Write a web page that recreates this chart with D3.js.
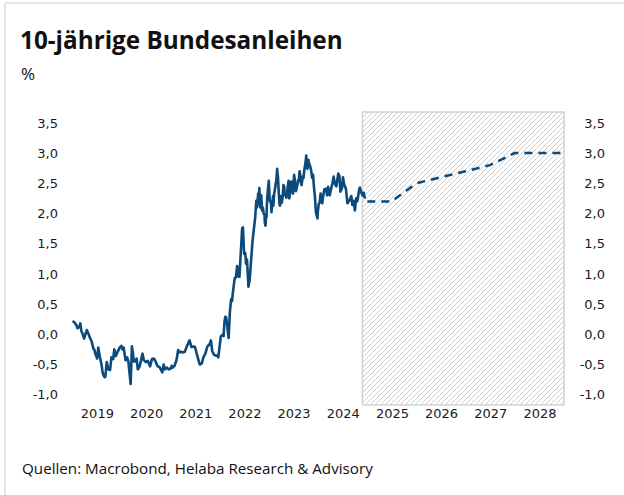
<!DOCTYPE html>
<html><head><meta charset="utf-8">
<script src="https://cdn.jsdelivr.net/npm/d3@7"></script>
<style>body{margin:0;background:#fff}svg{display:block}</style>
</head><body>
<svg id="c" width="624" height="495"></svg>
<script>
// ---------- data ----------
const histDates = [
"2019-01-02","2019-01-15","2019-01-31","2019-02-08","2019-02-20","2019-03-01","2019-03-08","2019-03-22","2019-03-29","2019-04-10","2019-04-18","2019-04-30","2019-05-10","2019-05-24","2019-06-05","2019-06-14","2019-06-20","2019-07-04","2019-07-12","2019-07-25","2019-08-05","2019-08-15","2019-08-28","2019-09-03","2019-09-13","2019-09-25","2019-10-08","2019-10-18","2019-10-31","2019-11-08","2019-11-20","2019-12-03","2019-12-18","2019-12-31",
"2020-01-08","2020-01-17","2020-01-31","2020-02-12","2020-02-21","2020-02-28","2020-03-09","2020-03-18","2020-03-25","2020-04-01","2020-04-15","2020-04-22","2020-05-01","2020-05-15","2020-06-05","2020-06-15","2020-06-30","2020-07-15","2020-07-31","2020-08-14","2020-08-28","2020-09-10","2020-09-25","2020-10-09","2020-10-30","2020-11-09","2020-11-20","2020-12-04","2020-12-17","2020-12-31",
"2021-01-08","2021-01-15","2021-01-29","2021-02-12","2021-02-25","2021-03-05","2021-03-18","2021-03-31","2021-04-15","2021-04-30","2021-05-14","2021-05-20","2021-06-04","2021-06-18","2021-06-30","2021-07-16","2021-07-30","2021-08-04","2021-08-20","2021-08-31","2021-09-15","2021-09-30","2021-10-15","2021-10-26","2021-11-05","2021-11-19","2021-11-30","2021-12-09","2021-12-20","2021-12-31",
"2022-01-07","2022-01-19","2022-01-28","2022-02-04","2022-02-10","2022-02-16","2022-02-24","2022-03-01","2022-03-07","2022-03-16","2022-03-25","2022-04-01","2022-04-08","2022-04-21","2022-04-29","2022-05-09","2022-05-16","2022-05-26","2022-06-03","2022-06-15","2022-06-21","2022-06-30","2022-07-08","2022-07-14","2022-07-21","2022-08-01","2022-08-10","2022-08-23","2022-08-31","2022-09-09","2022-09-20","2022-09-28",
"2022-10-03","2022-10-07","2022-10-12","2022-10-17","2022-10-21","2022-10-26","2022-10-28","2022-11-04","2022-11-10","2022-11-16","2022-11-22","2022-11-28","2022-12-01","2022-12-06","2022-12-09","2022-12-13","2022-12-16","2022-12-20","2022-12-23","2022-12-30",
"2023-01-06","2023-01-11","2023-01-16","2023-01-19","2023-01-25","2023-01-31","2023-02-02","2023-02-08","2023-02-14","2023-02-20","2023-02-24","2023-03-02","2023-03-09","2023-03-14","2023-03-20","2023-03-24","2023-03-31","2023-04-06","2023-04-12","2023-04-18","2023-04-24","2023-04-28",
"2023-05-05","2023-05-10","2023-05-15","2023-05-19","2023-05-26","2023-06-01","2023-06-07","2023-06-15","2023-06-20","2023-06-23","2023-06-28","2023-07-06","2023-07-10","2023-07-14","2023-07-19","2023-07-25","2023-07-31","2023-08-04","2023-08-10","2023-08-16","2023-08-21","2023-08-24","2023-08-31",
"2023-09-08","2023-09-14","2023-09-20","2023-09-29","2023-10-04","2023-10-09","2023-10-13","2023-10-20","2023-10-25","2023-10-31","2023-11-10","2023-11-17","2023-11-24","2023-11-30","2023-12-08","2023-12-15","2023-12-27","2023-12-29",
"2024-01-05","2024-01-12","2024-01-19","2024-01-31","2024-02-08","2024-02-16","2024-02-29","2024-03-07","2024-03-15","2024-03-27","2024-04-05","2024-04-16","2024-04-25","2024-05-03","2024-05-15","2024-05-29","2024-06-07","2024-06-14","2024-06-26","2024-07-03","2024-07-12","2024-07-25","2024-08-05","2024-08-14","2024-08-23","2024-09-03","2024-09-11","2024-09-20","2024-09-30","2024-10-09","2024-10-18","2024-10-31","2024-11-06","2024-11-15","2024-11-25","2024-12-05","2024-12-13"
];
const histValues = [
0.22,0.20,0.15,0.10,0.12,0.18,0.06,-0.02,-0.07,0.02,0.07,0.01,-0.05,-0.12,-0.23,-0.26,-0.32,-0.40,-0.22,-0.38,-0.50,-0.65,-0.71,-0.70,-0.46,-0.58,-0.59,-0.38,-0.41,-0.25,-0.36,-0.29,-0.22,-0.19,
-0.25,-0.22,-0.43,-0.38,-0.45,-0.61,-0.82,-0.20,-0.30,-0.45,-0.45,-0.40,-0.58,-0.53,-0.32,-0.43,-0.46,-0.44,-0.53,-0.41,-0.40,-0.45,-0.53,-0.54,-0.63,-0.50,-0.58,-0.55,-0.58,-0.57,
-0.52,-0.55,-0.52,-0.43,-0.26,-0.30,-0.29,-0.30,-0.29,-0.20,-0.13,-0.10,-0.21,-0.20,-0.21,-0.35,-0.46,-0.50,-0.48,-0.38,-0.32,-0.20,-0.17,-0.10,-0.28,-0.34,-0.35,-0.35,-0.38,-0.18,
-0.04,-0.01,-0.03,0.21,0.29,0.28,0.16,0.03,-0.06,0.37,0.58,0.55,0.71,0.93,0.94,1.13,0.96,0.95,1.27,1.75,1.77,1.33,1.35,1.17,1.24,0.79,0.90,1.30,1.54,1.72,1.93,2.21,
2.10,2.18,2.33,2.28,2.42,2.12,2.10,2.30,2.05,2.10,2.00,1.98,1.84,1.80,1.93,1.94,2.14,2.30,2.38,2.54,
2.21,2.20,2.16,2.02,2.17,2.29,2.13,2.33,2.40,2.50,2.54,2.74,2.58,2.35,2.15,2.13,2.29,2.18,2.27,2.47,2.44,2.31,
2.29,2.26,2.31,2.43,2.54,2.25,2.38,2.53,2.46,2.36,2.33,2.64,2.58,2.46,2.37,2.42,2.48,2.55,2.54,2.70,2.62,2.52,2.47,
2.61,2.59,2.72,2.84,2.96,2.76,2.74,2.89,2.83,2.80,2.71,2.59,2.64,2.45,2.27,2.02,1.92,2.02,
2.16,2.18,2.33,2.17,2.30,2.40,2.41,2.30,2.44,2.30,2.40,2.50,2.61,2.50,2.45,2.66,2.62,2.36,2.42,2.60,2.48,2.41,2.17,2.20,2.23,2.29,2.14,2.21,2.05,2.25,2.20,2.39,2.43,2.36,2.30,2.34,2.25
];
const fcDates = ["2024-12-31","2025-03-31","2025-06-30","2025-09-30","2025-12-31","2026-03-31","2026-06-30","2026-09-30","2026-12-31","2027-03-31","2027-06-30","2027-09-30","2027-12-31","2028-03-31","2028-06-30","2028-09-30","2028-12-31"];
const fcValues = [2.2,2.2,2.2,2.35,2.5,2.55,2.6,2.65,2.7,2.75,2.8,2.9,3.0,3.0,3.0,3.0,3.0];
const yTicks = [-1.0,-0.5,0.0,0.5,1.0,1.5,2.0,2.5,3.0,3.5];
const xYears = [2019,2020,2021,2022,2023,2024,2025,2026,2027,2028];
const forecastStart = "2024-11-25";
const forecastEnd = "2029-01-01";
const title = "10-jährige Bundesanleihen";
const unit = "%";
const source = "Quellen: Macrobond, Helaba Research & Advisory";

// ---------- chart ----------
const parse = d3.utcParse("%Y-%m-%d");
const svg = d3.select("#c");
const x = d3.scaleUtc().domain([parse("2019-01-01"), parse("2029-01-01")]).range([72.4, 564.1]);
const y = d3.scaleLinear().domain([-1.17, 3.68]).range([405, 112]);

// frame
svg.append("line").attr("x1",5).attr("x2",624).attr("y1",3).attr("y2",3).attr("stroke","#e4e4e4").attr("stroke-width",2);
svg.append("line").attr("x1",5).attr("x2",5).attr("y1",3).attr("y2",495).attr("stroke","#e4e4e4").attr("stroke-width",2);

// hatch pattern
const defs = svg.append("defs");
const pat = defs.append("pattern").attr("id","hatch").attr("patternUnits","userSpaceOnUse").attr("width",5).attr("height",5);
pat.append("path").attr("d","M-1,1 l2,-2 M0,5 l5,-5 M4,6 l2,-2").attr("stroke","#c6c6c6").attr("stroke-width",0.9);

const x0 = x(parse(forecastStart)), x1 = x(parse(forecastEnd));
svg.append("rect").attr("x",x0).attr("y",y(3.68)).attr("width",x1-x0).attr("height",y(-1.17)-y(3.68))
  .attr("fill","url(#hatch)").attr("stroke","#d2d2d2").attr("stroke-width",1.5);

// axes
const fmt = v => d3.format(".1f")(v).replace(".", ",").replace("−","-");
const styleAxis = g => {
  g.select(".domain").remove();
  g.selectAll("text").attr("font-family","DejaVu Sans").attr("font-size",13).attr("fill","#1a1a1a");
};
svg.append("g").attr("transform","translate(58,0)")
  .call(d3.axisLeft(y).tickValues(yTicks).tickFormat(fmt).tickSize(0).tickPadding(0)).call(styleAxis);
svg.append("g").attr("transform","translate(605,0)")
  .call(d3.axisLeft(y).tickValues(yTicks).tickFormat(fmt).tickSize(0).tickPadding(0)).call(styleAxis);
svg.append("g").attr("transform","translate(0,409)")
  .call(d3.axisBottom(x).tickValues(xYears.map(yr => new Date(Date.UTC(yr,6,2)))).tickFormat(d3.utcFormat("%Y")).tickSize(0).tickPadding(0))
  .call(styleAxis);
svg.selectAll(".tick line").remove();

// lines
const n = Math.min(histDates.length, histValues.length);
const hist = histDates.slice(0, n).map((d,i) => ({d: parse(d), v: histValues[i]}));
const fc = fcDates.map((d,i) => ({d: parse(d), v: fcValues[i]}));
const line = d3.line().x(p => x(p.d)).y(p => y(p.v));
svg.append("path").datum(hist).attr("d", line).attr("fill","none").attr("stroke","#0b4a7b")
  .attr("stroke-width",2.6).attr("stroke-linejoin","round");
svg.append("path").datum(fc).attr("d", line).attr("fill","none").attr("stroke","#0b4a7b")
  .attr("stroke-width",2.5).attr("stroke-dasharray","8,6");

// texts
svg.append("text").attr("x",20).attr("y",49).text(title)
  .attr("font-family","Open Sans").attr("font-weight","bold").attr("font-size",24.3).attr("fill","#111");
svg.append("text").attr("x",21).attr("y",80).text(unit)
  .attr("font-family","Open Sans").attr("font-size",17).attr("fill","#111");
svg.append("text").attr("x",22).attr("y",474).text(source)
  .attr("font-family","Open Sans").attr("font-size",15.2).attr("fill","#111");
</script>
</body></html>
